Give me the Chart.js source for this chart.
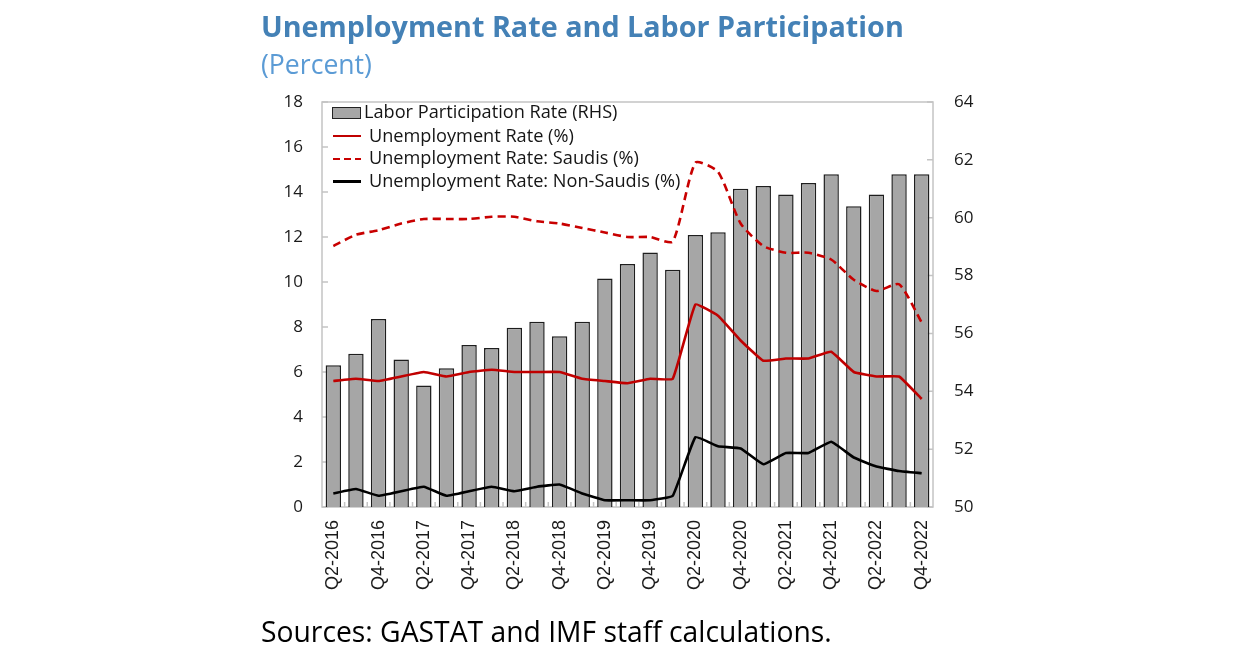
<!DOCTYPE html>
<html><head><meta charset="utf-8">
<script src="https://cdn.jsdelivr.net/npm/chart.js@4.4.1/dist/chart.umd.min.js"></script>
<style>
html,body{margin:0;padding:0;background:#fff;width:1242px;height:664px;overflow:hidden;}
#wrap{position:relative;width:1242px;height:664px;}
#c{position:absolute;left:0;top:0;}
.txt{position:absolute;white-space:nowrap;line-height:1;font-family:"Open Sans",sans-serif;}
#title{left:261px;color:#4481b6;font-weight:700;}
#sub{left:261px;color:#5b9bd5;}
#src{left:261px;color:#000;}
.lt{color:#151515;}
.sw{position:absolute;}
</style></head>
<body><div id="wrap">
<canvas id="c" width="1242" height="664"></canvas>
<div id="title" class="txt">Unemployment Rate and Labor Participation</div>
<div id="sub" class="txt">(Percent)</div>
<div id="src" class="txt">Sources: GASTAT and IMF staff calculations.</div>
<div class="sw" style="left:332px;top:107px;width:29px;height:12px;background:#a6a6a6;border:1.5px solid #222;box-sizing:border-box;"></div>
<div class="sw" style="left:333px;top:134.5px;width:28px;height:2.5px;background:#c00000;"></div>
<div class="sw" style="left:333px;top:157.5px;width:28px;height:2.5px;background:repeating-linear-gradient(to right,#c80000 0 7px,transparent 7px 11px);"></div>
<div class="sw" style="left:333px;top:180px;width:28px;height:2.5px;background:#000;"></div>
<div id="l1" class="txt lt" style="left:364px;">Labor Participation Rate (RHS)</div>
<div id="l2" class="txt lt" style="left:369px;">Unemployment Rate (%)</div>
<div id="l3" class="txt lt" style="left:369px;">Unemployment Rate: Saudis (%)</div>
<div id="l4" class="txt lt" style="left:369px;">Unemployment Rate: Non-Saudis (%)</div>
</div>
<script>
// ---- data ----
const quarters = ["Q2-2016","Q3-2016","Q4-2016","Q1-2017","Q2-2017","Q3-2017","Q4-2017","Q1-2018","Q2-2018","Q3-2018","Q4-2018","Q1-2019","Q2-2019","Q3-2019","Q4-2019","Q1-2020","Q2-2020","Q3-2020","Q4-2020","Q1-2021","Q2-2021","Q3-2021","Q4-2021","Q1-2022","Q2-2022","Q3-2022","Q4-2022"];
const laborParticipation = [54.9,55.3,56.5,55.1,54.2,54.8,55.6,55.5,56.2,56.4,55.9,56.4,57.9,58.4,58.8,58.2,59.4,59.5,61.0,61.1,60.8,61.2,61.5,60.4,60.8,61.5,61.5];
const unemploymentRate = [5.6,5.7,5.6,5.8,6.0,5.8,6.0,6.1,6.0,6.0,6.0,5.7,5.6,5.5,5.7,5.7,9.0,8.5,7.4,6.5,6.6,6.6,6.9,6.0,5.8,5.8,4.8];
const unemploymentSaudis = [11.6,12.1,12.3,12.6,12.8,12.8,12.8,12.9,12.9,12.7,12.6,12.4,12.2,12.0,12.0,11.8,15.3,14.9,12.6,11.6,11.3,11.3,11.0,10.1,9.6,9.9,8.2];
const unemploymentNonSaudis = [0.6,0.8,0.5,0.7,0.9,0.5,0.7,0.9,0.7,0.9,1.0,0.6,0.3,0.3,0.3,0.5,3.1,2.7,2.6,1.9,2.4,2.4,2.9,2.2,1.8,1.6,1.5];
const leftTicks = [0,2,4,6,8,10,12,14,16,18];
const rightTicks = [50,52,54,56,58,60,62,64];

// ---- text fitting ----
const mctx = document.createElement('canvas').getContext('2d');
function placeBaseline(el, size, baseline){
  el.style.fontSize = size + 'px';
  const probe = document.createElement('span');
  probe.style.cssText = 'display:inline-block;width:0;height:0;vertical-align:baseline;';
  el.appendChild(probe);
  const off = probe.offsetTop;
  el.removeChild(probe);
  el.style.top = (baseline - off) + 'px';
}
function fitText(el, targetW, baseline){
  const cs = getComputedStyle(el);
  mctx.font = cs.fontWeight + ' 100px ' + cs.fontFamily;
  const w = mctx.measureText(el.textContent).width;
  const size = 100*targetW/w;
  placeBaseline(el, size, baseline);
  return size;
}
fitText(document.getElementById('title'), 643, 36.7);
fitText(document.getElementById('sub'), 111, 74);
fitText(document.getElementById('src'), 571, 642);
const ls = fitText(document.getElementById('l2'), 205, 141.7);
placeBaseline(document.getElementById('l1'), ls, 118.3);
placeBaseline(document.getElementById('l3'), ls, 164);
placeBaseline(document.getElementById('l4'), ls, 186.7);

// ---- plugin: frame + inward ticks ----
const frameTicks = {
  id:'frameTicks',
  beforeDatasetsDraw(chart){
    const {ctx, chartArea:a, scales} = chart;
    ctx.save();
    ctx.strokeStyle = '#c4c4c4';
    ctx.lineWidth = 1.5;
    ctx.strokeRect(a.left, a.top, a.right-a.left, a.bottom-a.top);
    ctx.beginPath();
    leftTicks.forEach(v=>{const y=scales.y.getPixelForValue(v); ctx.moveTo(a.left,y); ctx.lineTo(a.left+6,y);});
    rightTicks.forEach(v=>{const y=scales.y1.getPixelForValue(v); ctx.moveTo(a.right,y); ctx.lineTo(a.right-6,y);});
    const n = quarters.length, w = (a.right-a.left)/n;
    for(let i=1;i<n;i++){const x=scales.x.getPixelForValue(i)-w/2; ctx.moveTo(x,a.bottom); ctx.lineTo(x,a.bottom-5);}
    ctx.stroke();
    ctx.restore();
  }
};

new Chart(document.getElementById('c'), {
  data:{
    labels: quarters,
    datasets:[
      {type:'line', label:'Unemployment Rate (%)', data:unemploymentRate, yAxisID:'y', borderColor:'#c00000', borderWidth:2.6, pointRadius:0, tension:0.1, order:1},
      {type:'line', label:'Unemployment Rate: Saudis (%)', data:unemploymentSaudis, yAxisID:'y', borderColor:'#c80000', borderWidth:2.6, borderDash:[8,5], pointRadius:0, tension:0.2, order:2},
      {type:'line', label:'Unemployment Rate: Non-Saudis (%)', data:unemploymentNonSaudis, yAxisID:'y', borderColor:'#000000', borderWidth:2.6, pointRadius:0, tension:0.1, order:0},
      {type:'bar', label:'Labor Participation Rate (RHS)', data:laborParticipation, yAxisID:'y1', backgroundColor:'#a6a6a6', borderColor:'#1e1e1e', borderWidth:1.5, barPercentage:0.68, categoryPercentage:1, order:5}
    ]
  },
  options:{
    responsive:false, animation:false, devicePixelRatio:1,
    layout:{padding:{left:250, right:240, top:102, bottom:60}},
    plugins:{legend:{display:false}, tooltip:{enabled:false}, title:{display:false}},
    scales:{
      x:{
        offset:true,
        grid:{display:false, drawTicks:false},
        border:{display:false},
        ticks:{autoSkip:false, minRotation:90, maxRotation:90, padding:13, color:'#1a1a1a',
          font:{family:'"Liberation Sans", Arial, sans-serif', size:18},
          callback:function(v,i){return i%2===0 ? quarters[i] : '';}},
        afterFit(s){s.height = 664-60-507;}
      },
      y:{
        position:'left', min:0, max:18,
        afterBuildTicks(s){s.ticks = leftTicks.map(v=>({value:v}));},
        grid:{display:false, drawTicks:false}, border:{display:false},
        ticks:{padding:19, color:'#1a1a1a', font:{family:'"Open Sans", sans-serif', size:17}},
        afterFit(s){s.width = 322-250;}
      },
      y1:{
        position:'right', min:50, max:64,
        afterBuildTicks(s){s.ticks = rightTicks.map(v=>({value:v}));},
        grid:{display:false, drawTicks:false}, border:{display:false},
        ticks:{padding:21, color:'#1a1a1a', font:{family:'"Open Sans", sans-serif', size:17}},
        afterFit(s){s.width = (1242-240)-933;}
      }
    }
  },
  plugins:[frameTicks]
});
</script>
</body></html>
